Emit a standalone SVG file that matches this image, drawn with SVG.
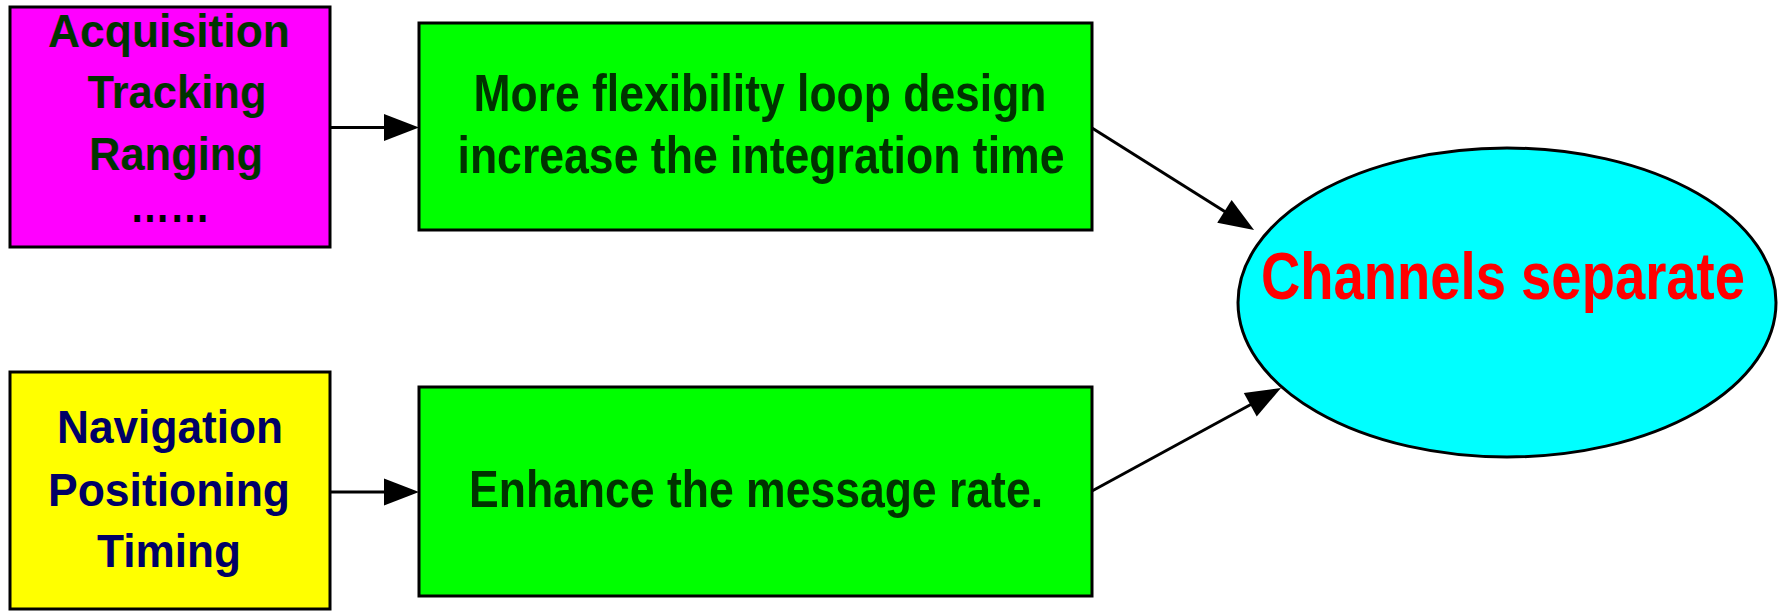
<svg xmlns="http://www.w3.org/2000/svg" width="1784" height="611" viewBox="0 0 1784 611">
<defs>
<marker id="arr" markerUnits="userSpaceOnUse" markerWidth="36" markerHeight="28" refX="21" refY="13.5" orient="auto" overflow="visible">
<path d="M0,0 L35,13.5 L0,27 z" fill="#000"/>
</marker>
<style>
.box{stroke:#000;stroke-width:3}
.t{font-family:"Liberation Sans",Arial,sans-serif;font-weight:bold;text-anchor:middle}
.g{fill:#003300;font-size:52px}
.m{fill:#003300;font-size:47px}
.n{fill:#000066;font-size:46px}
.r{fill:#FF0000;font-size:66px}
.c{stroke:#000;stroke-width:3;fill:none;marker-end:url(#arr)}
</style>
</defs>
<rect width="1784" height="611" fill="#fff"/>
<g id="node-acq">
<rect class="box" x="10" y="7" width="320" height="240" fill="#FF00FF"/>
<text class="t m" x="169" y="47" textLength="242" lengthAdjust="spacingAndGlyphs">Acquisition</text>
<text class="t m" x="177" y="108" textLength="179" lengthAdjust="spacingAndGlyphs">Tracking</text>
<text class="t m" x="176" y="170" textLength="174" lengthAdjust="spacingAndGlyphs">Ranging</text>
<text class="t m" x="170" y="222" style="fill:#000" textLength="80" lengthAdjust="spacingAndGlyphs">……</text>
</g>
<g id="node-nav">
<rect class="box" x="10" y="372" width="320" height="237" fill="#FFFF00"/>
<text class="t n" x="170" y="443" textLength="226" lengthAdjust="spacingAndGlyphs">Navigation</text>
<text class="t n" x="169" y="506" textLength="242" lengthAdjust="spacingAndGlyphs">Positioning</text>
<text class="t n" x="169" y="567" textLength="144" lengthAdjust="spacingAndGlyphs">Timing</text>
</g>
<g id="node-loop">
<rect class="box" x="419" y="23" width="673" height="207" fill="#00FF00"/>
<text class="t g" x="760" y="111" textLength="573" lengthAdjust="spacingAndGlyphs">More flexibility loop design</text>
<text class="t g" x="761" y="173" textLength="607" lengthAdjust="spacingAndGlyphs">increase the integration time</text>
</g>
<g id="node-msg">
<rect class="box" x="419" y="387" width="673" height="209" fill="#00FF00"/>
<text class="t g" x="756" y="507" textLength="574" lengthAdjust="spacingAndGlyphs">Enhance the message rate.</text>
</g>
<g id="node-chan">
<ellipse class="box" cx="1507" cy="302.5" rx="269" ry="154.5" fill="#00FFFF"/>
<text class="t r" x="1503" y="299" textLength="484" lengthAdjust="spacingAndGlyphs">Channels separate</text>
</g>
<g id="connectors">
<line class="c" x1="330" y1="127.5" x2="405" y2="127.5"/>
<line class="c" x1="330" y1="492" x2="405" y2="492"/>
<line class="c" x1="1092" y1="128" x2="1242.2" y2="222.5"/>
<line class="c" x1="1092" y1="491" x2="1268.7" y2="394.7"/>
</g>
</svg>
